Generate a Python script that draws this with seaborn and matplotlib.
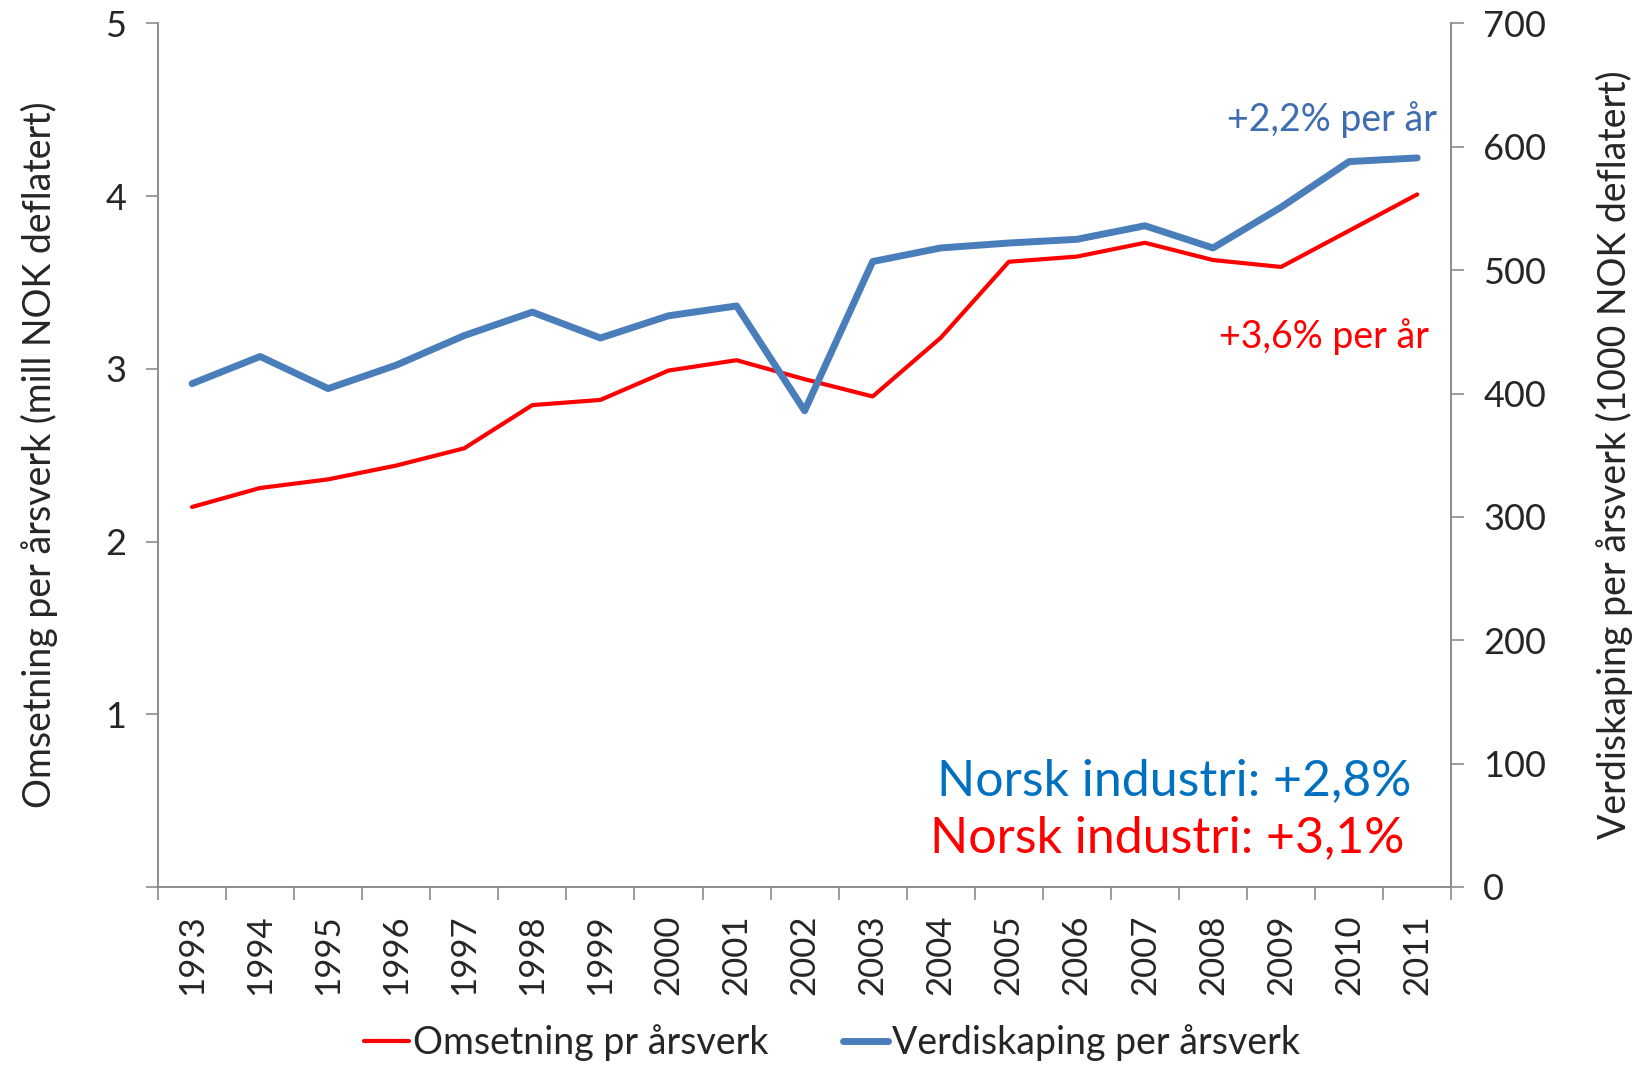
import numpy as np
import pandas as pd
import seaborn as sns
import matplotlib
matplotlib.use("Agg")
import matplotlib.pyplot as plt
from matplotlib.lines import Line2D

# Data
years = [str(y) for y in range(1993, 2012)]
omsetning = [2.20, 2.31, 2.36, 2.44, 2.54, 2.79, 2.82, 2.99, 3.05, 2.94,
             2.84, 3.18, 3.62, 3.65, 3.73, 3.63, 3.59, 3.80, 4.01]
verdiskaping = [408, 430, 404, 423, 447, 466, 445, 463, 471, 386,
                507, 518, 522, 525, 536, 518, 551, 588, 591]

RED = "#FF0000"
BLUE = "#4A7EBB"
GREY = "#8C8C8C"

sns.set_theme(style="white")
plt.rcParams["font.family"] = ["Lato", "DejaVu Sans"]

df = pd.DataFrame({"year": years, "omsetning": omsetning,
                   "verdiskaping": verdiskaping})
df["pos"] = np.arange(len(years))

fig = plt.figure(figsize=(16.51, 10.66), dpi=100)
ax = fig.add_axes([0.0957, 0.168, 0.7833, 0.81])
ax2 = ax.twinx()

sns.lineplot(data=df, x="pos", y="omsetning", ax=ax, color=RED,
             linewidth=3.0, solid_capstyle="round", solid_joinstyle="round")
sns.lineplot(data=df, x="pos", y="verdiskaping", ax=ax2, color=BLUE,
             linewidth=5.0, solid_capstyle="round", solid_joinstyle="round")

# left axis
ax.set_xlim(-0.5, len(years) - 0.5)
ax.set_ylim(0, 5)
ax.set_yticks([0, 1, 2, 3, 4, 5])
ax.set_yticklabels(["", "1", "2", "3", "4", "5"])
ax.set_xticks(np.arange(-0.5, len(years), 1.0))
ax.set_xticklabels([])
ax.set_xticks(np.arange(len(years)), minor=True)
ax.set_xticklabels(years, minor=True, rotation=90)
ax.tick_params(axis="x", which="major", direction="out", length=9,
               width=1.2, color=GREY, bottom=True)
ax.tick_params(axis="x", which="minor", length=0, labelsize=25, pad=20)
ax.tick_params(axis="y", direction="out", length=9, width=1.2, color=GREY,
               labelsize=26, pad=14, left=True)
ax.set_xlabel("")
ax.set_ylabel("Omsetning per årsverk (mill NOK deflatert)", fontsize=27,
              labelpad=34)

# right axis
ax2.set_ylim(0, 700)
ax2.set_yticks(range(0, 701, 100))
ax2.tick_params(axis="y", direction="out", length=9, width=1.2, color=GREY,
                labelsize=26, pad=14, right=True)
ax2.set_ylabel("Verdiskaping per årsverk (1000 NOK deflatert)", fontsize=27,
               labelpad=36)

for a in (ax, ax2):
    a.spines["top"].set_visible(False)
    for s in ("left", "right", "bottom"):
        a.spines[s].set_color(GREY)
        a.spines[s].set_linewidth(1.2)
    a.grid(False)

# annotations
ax.text(0.989, 0.889, "+2,2% per år", transform=ax.transAxes, ha="right",
        va="center", fontsize=27, color="#3E6DB0")
ax.text(0.983, 0.637, "+3,6% per år", transform=ax.transAxes, ha="right",
        va="center", fontsize=27, color=RED)
ax.text(0.969, 0.123, "Norsk industri: +2,8%", transform=ax.transAxes,
        ha="right", va="center", fontsize=36, color="#0070C0")
ax.text(0.964, 0.056, "Norsk industri: +3,1%", transform=ax.transAxes,
        ha="right", va="center", fontsize=36, color=RED)

handles = [Line2D([], [], color=RED, linewidth=3.0),
           Line2D([], [], color=BLUE, linewidth=5.0)]
fig.legend(handles, ["Omsetning pr årsverk", "Verdiskaping per årsverk"],
           loc="center", bbox_to_anchor=(0.504, 0.022), ncol=2, frameon=False,
           fontsize=27, handlelength=1.2, handletextpad=0.1, columnspacing=2.0)

fig.savefig("out.png", dpi=100)
